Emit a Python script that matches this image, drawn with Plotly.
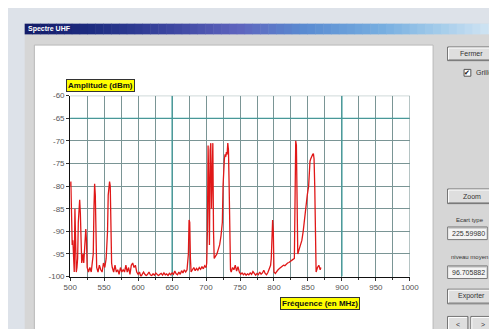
import plotly.graph_objects as go

# ---------------- data ----------------
freq_mhz = [
    500, 501, 502, 503, 504, 505, 506, 507, 508, 509, 510, 511, 512, 513, 514, 515, 516, 517, 518, 519,
    520, 522, 523, 524, 525, 527, 529, 531, 533, 534, 535, 536, 537, 538, 539, 541, 543, 545, 547, 549,
    551, 553, 555, 556, 557, 558, 559, 560, 561, 562, 564, 566, 568, 570, 572, 574, 576, 578, 580, 582,
    584, 586, 588, 590, 592, 594, 596, 598, 600, 602, 604, 606, 608, 610, 612, 614, 616, 618, 620, 622,
    624, 626, 628, 630, 632, 634, 636, 638, 640, 642, 644, 646, 648, 650, 652, 654, 656, 658, 660, 662,
    664, 666, 668, 670, 672, 673, 674, 675, 676, 677, 678, 680, 682, 684, 686, 688, 690, 692, 694, 696,
    698, 700, 701, 702, 703, 704, 705, 706, 707, 708, 709, 710, 711, 712, 714, 716, 718, 720, 722, 724,
    725, 726, 727, 728, 729, 730, 731, 732, 733, 734, 735, 736, 737, 739, 741, 743, 745, 747, 749, 751,
    753, 755, 757, 759, 761, 763, 765, 767, 769, 771, 773, 775, 777, 779, 781, 783, 785, 787, 789, 791,
    793, 795, 796, 797, 798, 799, 800, 802, 804, 806, 808, 810, 812, 814, 816, 818, 820, 822, 824, 826,
    828, 830, 831, 832, 833, 834, 835, 837, 839, 841, 843, 845, 847, 849, 851, 852, 853, 854, 855, 856,
    857, 858, 859, 860, 861, 862, 864, 866, 868, 869,
]
level_dbm = [
    -80, -79, -86, -93, -92, -98, -99, -85, -90, -99, -98, -96, -88, -84, -83, -86, -94, -97, -96, -95,
    -97, -93, -89.5, -92, -98, -99, -98, -99, -97, -95, -85, -79.5, -82, -95, -98, -99, -97.5, -98.5, -99, -97,
    -98, -96, -90, -82, -79.5, -79, -80, -90, -97, -98, -99, -97.5, -99, -98.5, -99.5, -98, -99, -98.5, -99, -97.5,
    -99, -98, -99.5, -97.5, -97, -98, -97.5, -99, -99.5, -99, -100, -99.5, -99, -99.5, -99.8, -99.5, -99, -99.6, -99.8, -99.4,
    -99.7, -99.2, -99.6, -99.8, -99.5, -99.3, -99.7, -99.2, -99.6, -99.4, -99.8, -99.3, -99.6, -99.2, -99.5, -98.8, -99.4, -99.6, -99.0, -99.5,
    -98.7, -99.2, -98.5, -99, -98.5, -97, -95, -87.5, -88, -96, -99, -98.5, -98, -98.7, -98.2, -98.6, -98, -98.4, -97.8, -98.3,
    -97.6, -98, -97, -90, -71, -80, -93, -72, -70.5, -85, -75, -70.5, -90, -96, -95.5, -95, -94, -93, -91, -88,
    -80, -75, -74, -73, -73.5, -72.5, -73, -70.5, -72, -80, -97, -98.5, -99, -98, -98.5, -97.5, -98.8, -97.8, -99, -99.5,
    -99.2, -99.6, -99.3, -99.7, -99.4, -99.6, -99.2, -99.5, -98.9, -99.4, -99.7, -99.3, -99.6, -99.0, -99.5, -99.2, -98.6, -99.3, -99.6, -99.1,
    -98.4, -97.5, -96, -88, -87.5, -90, -99, -99.3, -98.8, -98.5, -98.2, -98, -97.8, -97.5, -97.6, -97.2, -97, -96.9, -96.6, -96.5,
    -96.2, -96, -80, -70, -71, -85, -95, -94, -93, -92, -90, -87, -84, -82, -80, -76, -74.5, -74, -73.5, -73,
    -73, -72.8, -74, -80, -97, -99, -98, -97.5, -98.5, -98,
]
x_ticks = [500, 550, 600, 650, 700, 750, 800, 850, 900, 950, 1000]
y_ticks = [-60, -65, -70, -75, -80, -85, -90, -95, -100]

W, H = 497, 329


def px(x):
    return x / W


def py(y):
    return 1 - y / H


shapes = []
annotations = []


def rect(x0, y0, x1, y1, fill, line=None, lw=1, layer="below"):
    shapes.append(dict(type="rect", xref="paper", yref="paper",
                       x0=px(x0), x1=px(x1), y0=py(y1), y1=py(y0),
                       fillcolor=fill, line=dict(color=line or fill, width=lw if line else 0),
                       layer=layer))


def hline(x0, x1, y, color, lw=1, layer="above"):
    shapes.append(dict(type="line", xref="paper", yref="paper",
                       x0=px(x0), x1=px(x1), y0=py(y), y1=py(y),
                       line=dict(color=color, width=lw), layer=layer))


def vline(x, y0, y1, color, lw=1, layer="above"):
    shapes.append(dict(type="line", xref="paper", yref="paper",
                       x0=px(x), x1=px(x), y0=py(y0), y1=py(y1),
                       line=dict(color=color, width=lw), layer=layer))


def text(x, y, s, size=7, color="#222", bold=False, xanchor="center", bg=None, border=None):
    annotations.append(dict(xref="paper", yref="paper", x=px(x), y=py(y),
                            text=("<b>%s</b>" % s) if bold else s,
                            showarrow=False, xanchor=xanchor, yanchor="middle",
                            font=dict(size=size, color=color, family="Liberation Sans, Arial"),
                            bgcolor=bg, bordercolor=border, borderwidth=1 if border else 0,
                            borderpad=1))


def button(x0, y0, x1, y1, label):
    rect(x0, y0, x1, y1, "#dedede", "#6a6a6a", 1)
    hline(x0 + 1, x1 - 1, y0 + 1, "#ffffff", 1, "below")
    vline(x0 + 1, y0 + 1, y1 - 1, "#ffffff", 1, "below")
    hline(x0 + 1, x1 - 1, y1 - 1, "#9a9a9a", 1, "below")
    text((x0 + x1) / 2, (y0 + y1) / 2, label, size=7, color="#333")


def textbox(x0, y0, x1, y1, label):
    rect(x0, y0, x1, y1, "#f4f4f4", "#7a7a7a", 1)
    hline(x0 + 1, x1 - 1, y0 + 1, "#a0a0a0", 1, "below")
    text(x0 + 3, (y0 + y1) / 2, label, size=7, color="#333", xanchor="left")


# window background and dialog body
rect(10, 12, 497, 329, "#d6d6d6")

# title bar gradient
stops = [(10, (20, 28, 104)), (80, (30, 45, 130)), (160, (60, 70, 160)), (230, (95, 100, 190)),
         (300, (90, 140, 210)), (380, (120, 175, 225)), (440, (165, 205, 235)), (497, (215, 232, 245))]
n = 60
for i in range(n):
    xa = 10 + (497 - 10) * i / n
    xb = 10 + (497 - 10) * (i + 1) / n + 0.5
    xm = (xa + xb) / 2
    for j in range(len(stops) - 1):
        if stops[j][0] <= xm <= stops[j + 1][0]:
            t = (xm - stops[j][0]) / (stops[j + 1][0] - stops[j][0])
            c = [int(stops[j][1][k] + t * (stops[j + 1][1][k] - stops[j][1][k])) for k in range(3)]
            break
    rect(xa, 12, xb, 23, "rgb(%d,%d,%d)" % tuple(c))
text(12, 17.5, "Spectre UHF", size=7, color="#ffffff", bold=True, xanchor="left")

# white chart panel
rect(20, 34, 432, 327, "#ffffff", "#b8b8b8", 1)

# right side controls
button(447, 36, 497, 50, "Fermer")
rect(464, 59, 471, 66, "#ffffff", "#555555", 1)
text(467.5, 62.5, "✔", size=7, color="#111")
text(475, 62.5, "Grille", size=7, color="#333", xanchor="left")
button(447, 182, 497, 197, "Zoom")
text(470, 214, "Ecart type", size=6, color="#333")
textbox(447, 221, 488, 234, "225.59980")
text(470, 252, "niveau moyen", size=6, color="#333")
textbox(447, 261, 488, 274, "96.705882")
button(447, 285, 497, 300, "Exporter")
button(447, 313, 468, 329, "&lt;")
button(471, 313, 497, 329, "&gt;")

# axis title boxes
text(88, 75.5, "Amplitude (dBm)", size=8, color="#111", bold=True, bg="#ffff00", border="#333")
text(315, 299.5, "Fréquence (en MHz)", size=8, color="#111", bold=True, bg="#ffff00", border="#333")

# highlighted (teal) grid lines in data coordinates
teal = "#3a9a9a"
for xv in [650, 900]:
    shapes.append(dict(type="line", xref="x", yref="y", x0=xv, x1=xv, y0=-100, y1=-60,
                       line=dict(color=teal, width=1.2), layer="between"))
shapes.append(dict(type="line", xref="x", yref="y", x0=500, x1=1000, y0=-65, y1=-65,
                   line=dict(color=teal, width=1.2), layer="between"))

fig = go.Figure()
fig.add_trace(go.Scatter(x=freq_mhz, y=level_dbm, mode="lines",
                         line=dict(color="#e01818", width=1.3), hoverinfo="skip"))

grid_col = "#7a9595"
fig.update_layout(
    width=W, height=H, autosize=False,
    margin=dict(l=0, r=0, t=0, b=0),
    paper_bgcolor="#dde2e9", plot_bgcolor="rgba(0,0,0,0)",
    showlegend=False,
    shapes=shapes, annotations=annotations,
    xaxis=dict(domain=[px(57), px(408)], range=[500, 1000], tickvals=x_ticks,
               ticktext=[str(v) for v in x_ticks],
               showgrid=True, gridcolor=grid_col, gridwidth=1,
               minor=dict(dtick=25, tick0=500, showgrid=True, gridcolor=grid_col, gridwidth=1,
                          ticks="outside", ticklen=2, tickcolor="#333"),
               ticks="outside", ticklen=3, tickcolor="#333",
               showline=True, linecolor="#111", linewidth=1, mirror=False,
               zeroline=False, fixedrange=True,
               tickfont=dict(size=8, color="#555", family="Liberation Sans, Arial")),
    yaxis=dict(domain=[py(272), py(86)], range=[-100, -60], tickvals=y_ticks,
               ticktext=[str(v) for v in y_ticks],
               showgrid=True, gridcolor=grid_col, gridwidth=1,
               ticks="outside", ticklen=3, tickcolor="#333",
               showline=True, linecolor="#111", linewidth=1,
               zeroline=False, fixedrange=True,
               tickfont=dict(size=8, color="#555", family="Liberation Sans, Arial")),
)
# top and right frame as gray grid-like lines
fig.add_shape(type="line", xref="x", yref="y", x0=500, x1=1000, y0=-60, y1=-60,
              line=dict(color=grid_col, width=1), layer="between")
fig.add_shape(type="line", xref="x", yref="y", x0=1000, x1=1000, y0=-100, y1=-60,
              line=dict(color=grid_col, width=1), layer="between")

fig.write_html("out.html")
